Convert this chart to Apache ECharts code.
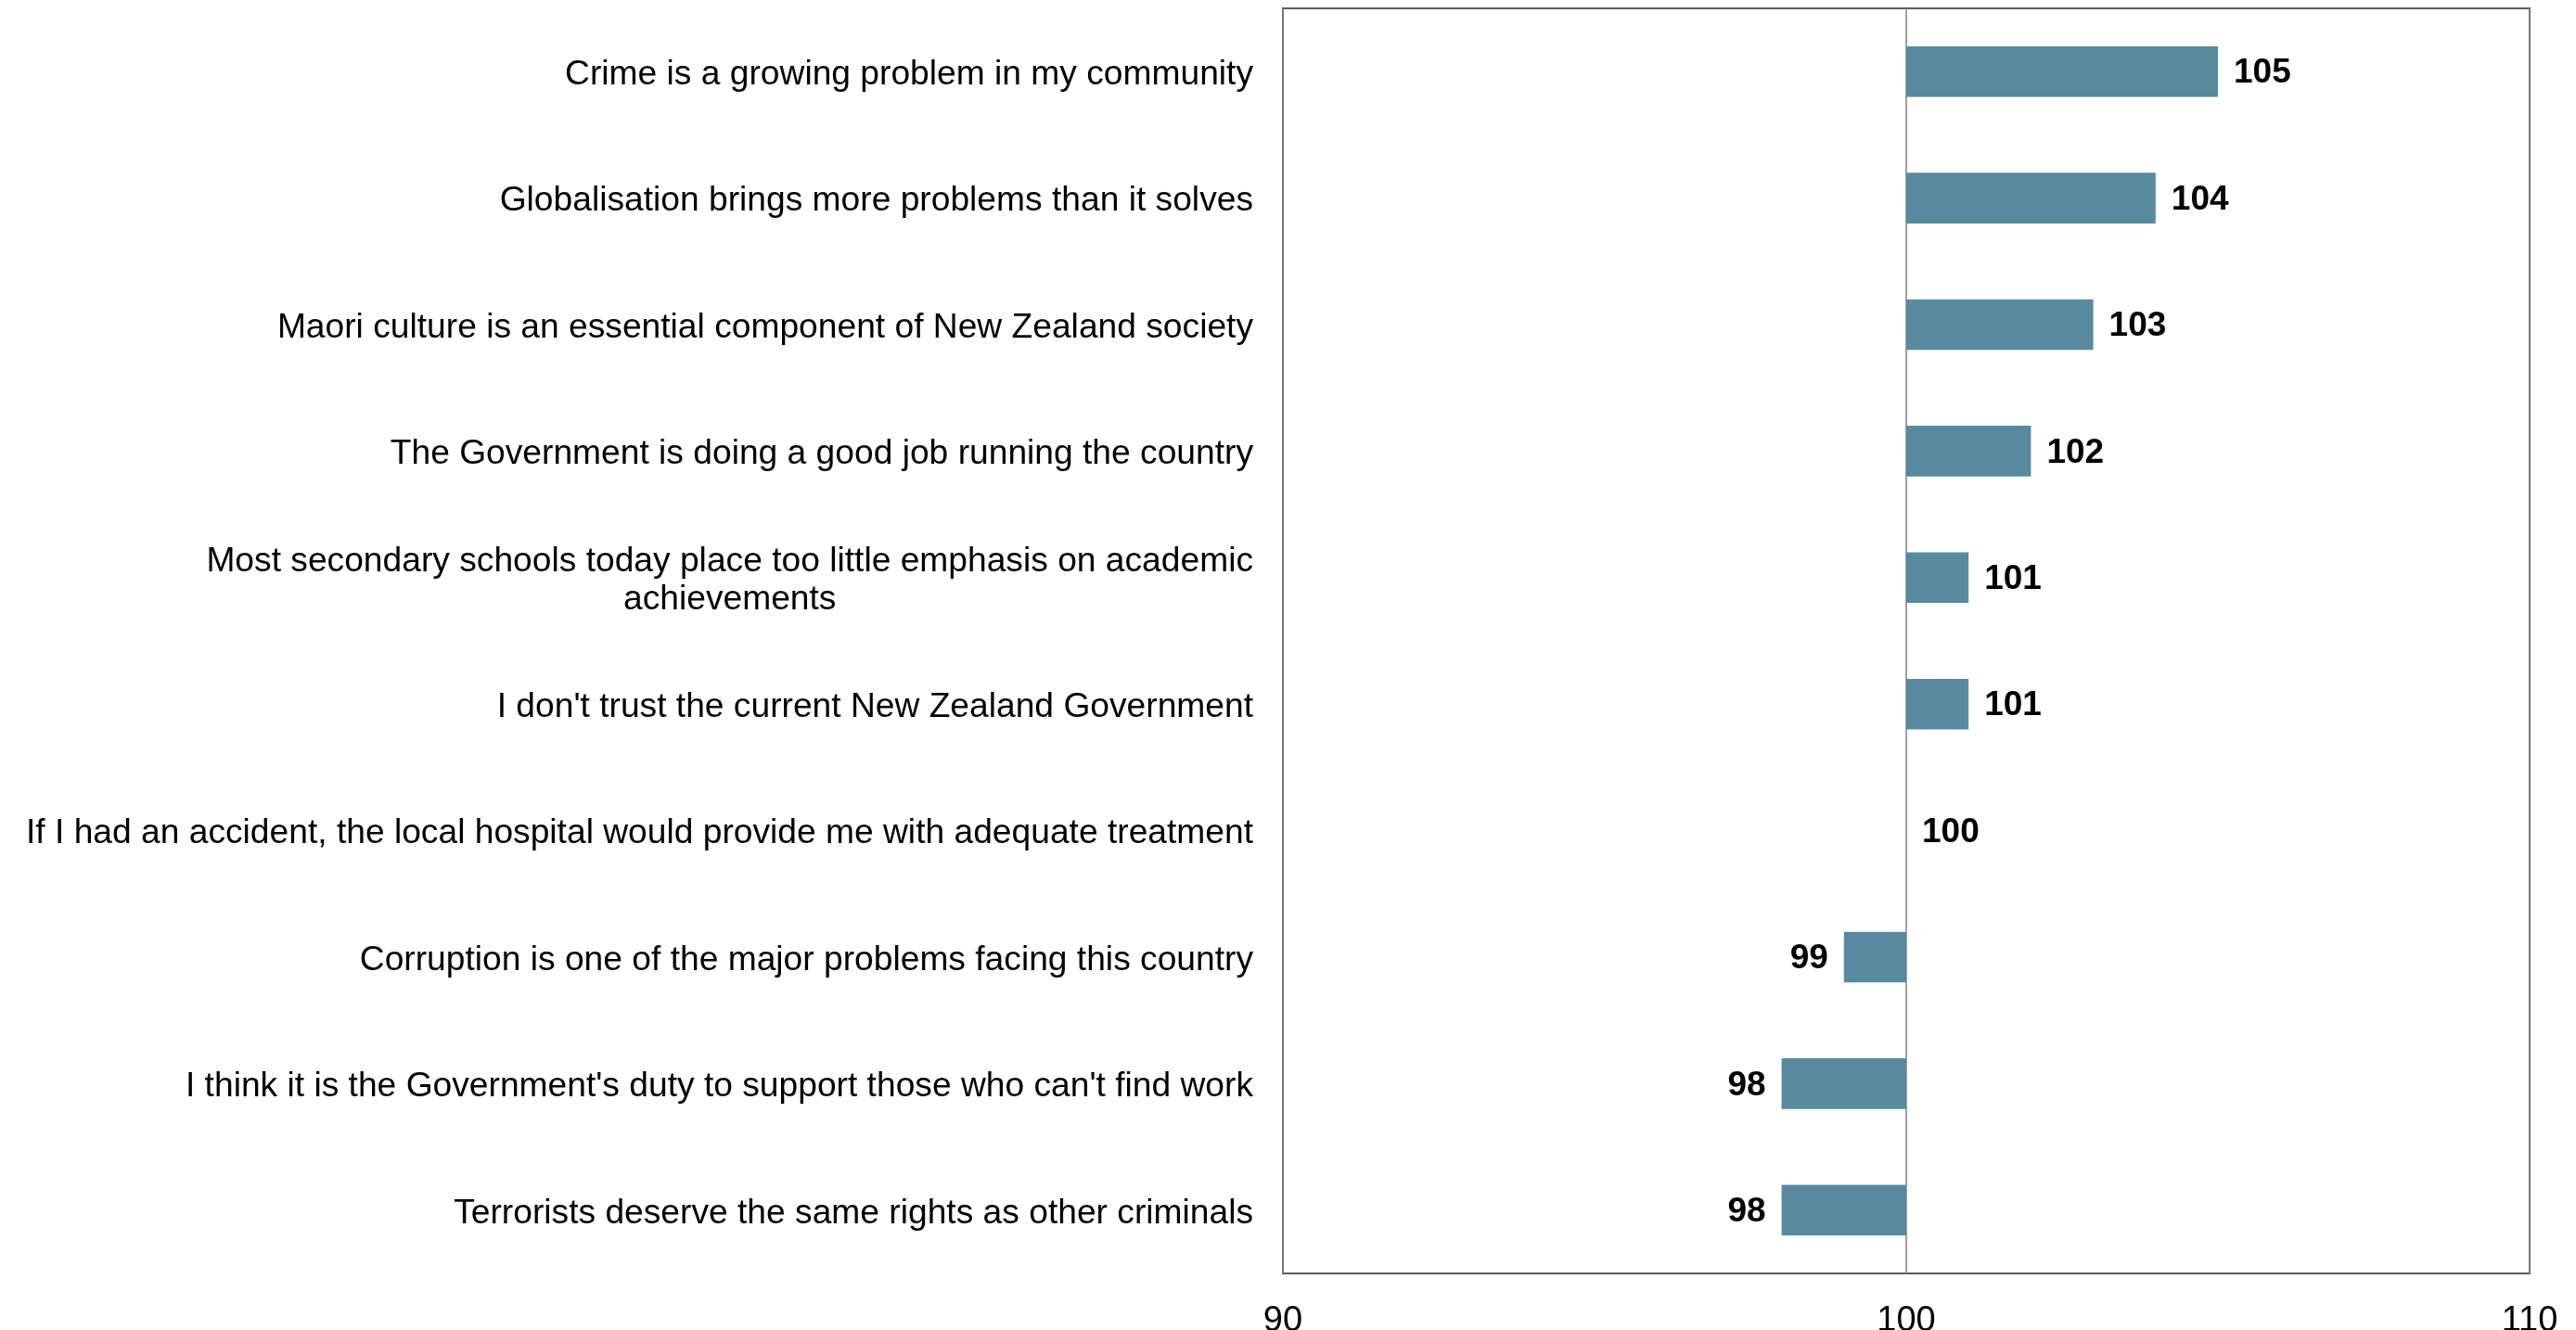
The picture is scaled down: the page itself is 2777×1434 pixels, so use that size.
<!DOCTYPE html>
<html>
<head>
<meta charset="utf-8">
<script src="https://cdn.jsdelivr.net/npm/echarts@6/dist/echarts.min.js"></script>
<style>
  html, body { margin: 0; padding: 0; background: #ffffff; }
  #chart { width: 2777px; height: 1434px; }
</style>
</head>
<body>
<div id="chart"></div>
<script>
// Survey statements (top to bottom) and their index scores (100 = average)
const statements = [
  "Crime is a growing problem in my community",
  "Globalisation brings more problems than it solves",
  "Maori culture is an essential component of New Zealand society",
  "The Government is doing a good job running the country",
  "Most secondary schools today place too little emphasis on academic\nachievements",
  "I don't trust the current New Zealand Government",
  "If I had an accident, the local hospital would provide me with adequate treatment",
  "Corruption is one of the major problems facing this country",
  "I think it is the Government's duty to support those who can't find work",
  "Terrorists deserve the same rights as other criminals"
];
const scores = [105, 104, 103, 102, 101, 101, 100, 99, 98, 98];

// Value axis settings
const axisMin = 90;
const axisMax = 110;
const axisStep = 10;
const baseline = 100;

const barColor = '#588a9f';
const fontFamily = '"Liberation Sans", Arial, Helvetica, sans-serif';

const chart = echarts.init(document.getElementById('chart'), null, { renderer: 'canvas' });

const seriesData = scores.map((v, i) => [v, i]);

chart.setOption({
  backgroundColor: '#ffffff',
  animation: false,
  grid: {
    left: 1383,
    right: 50,
    top: 9,
    bottom: 61,
    outerBoundsMode: 'none',
    containLabel: false,
    show: true,
    borderColor: '#5a5a5a',
    borderWidth: 2,
    backgroundColor: 'transparent'
  },
  xAxis: {
    type: 'value',
    min: axisMin,
    max: axisMax,
    interval: axisStep,
    axisLine: { show: false },
    axisTick: { show: false },
    splitLine: { show: true, lineStyle: { color: '#808080', width: 1.5 } },
    axisLabel: {
      color: '#000000',
      fontSize: 38,
      fontFamily: fontFamily,
      margin: 33
    }
  },
  yAxis: {
    type: 'category',
    inverse: true,
    data: statements,
    axisLine: { show: false },
    axisTick: { show: false },
    splitLine: { show: false },
    axisLabel: {
      color: '#000000',
      fontSize: 37.2,
      fontFamily: fontFamily,
      margin: 32,
      lineHeight: 41,
      padding: [7, 0, 0, 0],
      formatter: function (v) {
        return v.split('\n').map(function (l) { return '{c|' + l + '}'; }).join('\n');
      },
      rich: {
        c: {
          align: 'center',
          color: '#000000',
          fontSize: 37.2,
          fontFamily: fontFamily,
          lineHeight: 41
        }
      }
    }
  },
  series: [{
    type: 'custom',
    encode: { x: 0, y: 1 },
    data: seriesData,
    clip: false,
    renderItem: function (params, api) {
      const val = api.value(0);
      const cat = api.value(1);
      const p0 = api.coord([baseline, cat]);
      const p1 = api.coord([val, cat]);
      const bandH = api.size([0, 1])[1];
      const h = bandH * 0.4;
      const x0 = Math.min(p0[0], p1[0]);
      const w = Math.abs(p1[0] - p0[0]);
      const positive = val >= baseline;
      const children = [];
      if (w > 0) {
        children.push({
          type: 'rect',
          shape: { x: x0, y: p0[1] - h / 2, width: w, height: h },
          style: { fill: barColor }
        });
      }
      children.push({
        type: 'text',
        x: positive ? p1[0] + 17 : p1[0] - 17,
        y: p0[1] + 2,
        style: {
          text: String(val),
          fill: '#000000',
          font: 'bold 37px ' + fontFamily,
          textAlign: positive ? 'left' : 'right',
          textVerticalAlign: 'middle'
        }
      });
      return { type: 'group', children: children };
    }
  }]
});
</script>
</body>
</html>
